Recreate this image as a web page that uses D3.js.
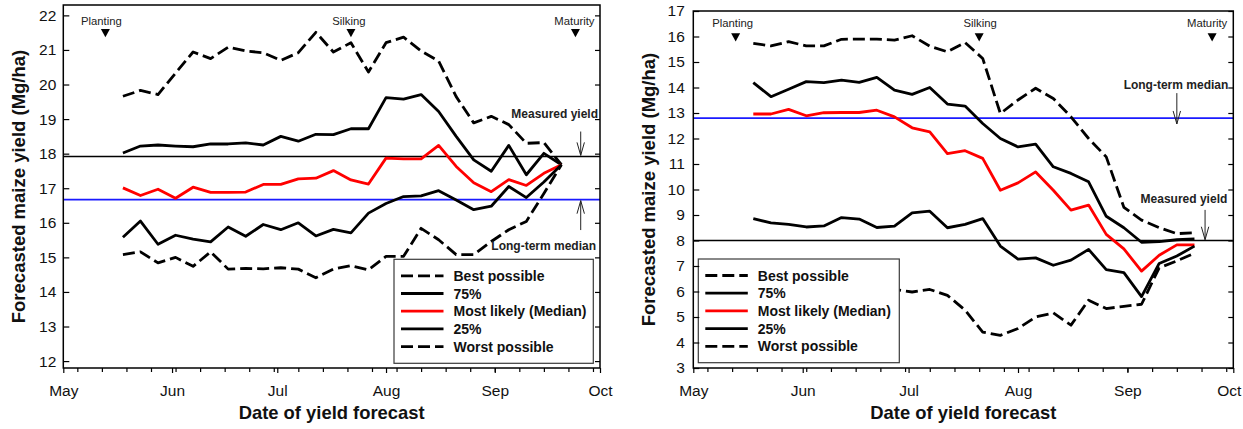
<!DOCTYPE html>
<html><head><meta charset="utf-8">
<script src="https://cdn.jsdelivr.net/npm/d3@7"></script>
<style>
html,body{margin:0;padding:0;background:#fff;}
svg{display:block;font-family:"Liberation Sans",Arial,Helvetica,sans-serif;}
</style></head><body>
<svg id="chart" width="1243" height="429"></svg>
<script>
// Forecast dates shared by both seasons
const forecastDates = ["2013-05-18","2013-05-23","2013-05-28","2013-06-02","2013-06-07","2013-06-12",
  "2013-06-17","2013-06-22","2013-06-27","2013-07-02","2013-07-07","2013-07-12","2013-07-17",
  "2013-07-22","2013-07-27","2013-08-01","2013-08-06","2013-08-11","2013-08-16","2013-08-21",
  "2013-08-26","2013-08-31","2013-09-05","2013-09-10","2013-09-15","2013-09-20"];
const monthTicks = ["2013-05-01","2013-06-01","2013-07-01","2013-08-01","2013-09-01","2013-10-01"];
const seriesNames = ["Best possible","75%","Most likely (Median)","25%","Worst possible"];
const stageNames = ["Planting","Silking","Maturity"];

// Season A (Mg/ha)
const bestA   = [19.66,19.83,19.71,20.33,20.94,20.75,21.08,20.97,20.92,20.70,20.92,21.51,20.94,21.21,20.36,21.21,21.37,20.97,20.68,19.65,18.89,19.08,18.84,18.30,18.32,17.68];
const p75A    = [18.02,18.22,18.25,18.22,18.20,18.28,18.28,18.31,18.25,18.50,18.36,18.56,18.55,18.72,18.72,19.62,19.58,19.71,19.22,18.50,17.82,17.49,18.24,17.39,18.01,17.68];
const medianA = [17.01,16.79,16.97,16.71,17.03,16.88,16.88,16.89,17.11,17.11,17.27,17.29,17.51,17.24,17.12,17.87,17.85,17.85,18.24,17.63,17.16,16.90,17.25,17.08,17.43,17.68];
const p25A    = [15.58,16.05,15.38,15.64,15.53,15.45,15.88,15.61,15.95,15.80,16.00,15.62,15.81,15.71,16.28,16.56,16.76,16.78,16.93,16.66,16.38,16.48,17.05,16.73,17.18,17.68];
const worstA  = [15.08,15.16,14.84,15.00,14.74,15.16,14.66,14.68,14.67,14.70,14.66,14.41,14.66,14.76,14.64,15.03,15.03,15.84,15.51,15.08,15.08,15.46,15.80,16.04,16.85,17.68];
const measuredA = 17.92;
const longTermA = 16.67;
const stageDatesA = ["2013-05-13","2013-07-22","2013-09-24"];
const yTicksA = [12,13,14,15,16,17,18,19,20,21,22];

// Season B (Mg/ha)
const bestB   = [15.73,15.63,15.80,15.63,15.63,15.89,15.90,15.90,15.86,16.03,15.62,15.40,15.76,15.14,12.98,13.51,13.97,13.57,12.85,12.00,11.28,9.30,8.80,8.50,8.27,8.30];
const p75B    = [14.19,13.64,13.93,14.23,14.19,14.29,14.20,14.40,13.90,13.73,14.00,13.35,13.27,12.59,12.00,11.67,11.78,10.89,10.63,10.30,8.95,8.50,7.93,7.96,8.03,8.06];
const medianB = [12.96,12.96,13.14,12.89,13.01,13.02,13.02,13.11,12.85,12.42,12.26,11.41,11.52,11.22,9.97,10.26,10.69,9.97,9.19,9.39,8.24,7.67,6.80,7.42,7.83,7.83];
const p25B    = [8.86,8.69,8.63,8.53,8.57,8.90,8.84,8.51,8.56,9.08,9.15,8.50,8.63,8.86,7.78,7.27,7.32,7.03,7.23,7.65,6.86,6.74,5.80,7.10,7.39,7.78];
const worstB  = [6.25,6.20,6.15,6.10,6.12,6.08,6.10,6.05,6.08,5.98,6.08,5.85,5.27,4.41,4.28,4.55,5.00,5.16,4.68,5.66,5.33,5.42,5.50,6.93,7.20,7.50];
const measuredB = 8.0;
const longTermB = 12.8;
const stageDatesB = ["2013-05-13","2013-07-21","2013-09-25"];
const yTicksB = [3,4,5,6,7,8,9,10,11,12,13,14,15,16,17];

const parse = d3.isoParse;
const seriesStyle = [
  {color:"#000", dash:"12,5"},
  {color:"#000", dash:null},
  {color:"#ff0000", dash:null},
  {color:"#000", dash:null},
  {color:"#000", dash:"12,5"}
];

const panels = [
  {
    box:{left:63.3, right:600, top:5, bottom:368}, yDomain:[11.8,22.3], yTicks:yTicksA,
    series:[bestA,p75A,medianA,p25A,worstA], measured:measuredA, longTerm:longTermA,
    stages:stageDatesA, stageDx:[-4,-2,-1], stageTextDy:19.5, triTop:24,
    labelPad:7, titleX:25,
    legend:{x:394, y:259.3, w:199.3, h:104},
    notes:[
      {text:"Measured yield", textY:19.02, endDx:2, arrowX:"2013-09-25T12:00", tail:18.64, tip:17.95},
      {text:"Long-term median", textY:15.21, endDx:4, arrowX:"2013-09-25T12:00", tail:15.79, tip:16.64}
    ]
  },
  {
    box:{left:693.3, right:1233.3, top:11, bottom:368}, yDomain:[3,17], yTicks:yTicksB,
    series:[bestB,p75B,medianB,p25B,worstB], measured:measuredB, longTerm:longTermB,
    stages:stageDatesB, stageDx:[-3,1,-5], stageTextDy:16, triTop:22.3,
    labelPad:8.5, titleX:655,
    legend:{x:698.3, y:259, w:201, h:103.7},
    notes:[
      {text:"Long-term median", textY:13.96, endDx:5, arrowX:"2013-09-15", tail:13.78, tip:12.57},
      {text:"Measured yield", textY:9.47, endDx:6, arrowX:"2013-09-23", tail:9.2, tip:8.03}
    ]
  }
];

const svg = d3.select("#chart");
const svgWidth = +svg.attr("width");

panels.forEach(p => {
  const b = p.box;
  const x = d3.scaleTime().domain([parse("2013-05-01"), parse("2013-10-01")]).range([b.left, b.right]);
  const y = d3.scaleLinear().domain(p.yDomain).range([b.bottom, b.top]);
  const g = svg.append("g");

  // reference lines
  g.append("line").attr("x1", b.left).attr("x2", b.right)
    .attr("y1", y(p.measured)).attr("y2", y(p.measured))
    .attr("stroke", "#000").attr("stroke-width", 1.5);
  g.append("line").attr("x1", b.left).attr("x2", b.right)
    .attr("y1", y(p.longTerm)).attr("y2", y(p.longTerm))
    .attr("stroke", "#1a1aff").attr("stroke-width", 1.6);

  // forecast series
  const line = d3.line().x(d => x(d.date)).y(d => y(d.v));
  p.series.forEach((vals, i) => {
    const pts = vals.map((v, k) => ({date: parse(forecastDates[k]), v}));
    g.append("path").datum(pts).attr("d", line)
      .attr("fill", "none").attr("stroke", seriesStyle[i].color)
      .attr("stroke-width", 2.8).attr("stroke-linejoin", "round")
      .attr("stroke-dasharray", seriesStyle[i].dash);
  });

  // growth stage markers
  p.stages.forEach((s, i) => {
    const sx = x(parse(s));
    g.append("path")
      .attr("d", `M${sx - 4.5},${b.top + p.triTop}L${sx + 4.5},${b.top + p.triTop}L${sx},${b.top + p.triTop + 8.3}Z`)
      .attr("fill", "#000");
    g.append("text").attr("x", sx + p.stageDx[i]).attr("y", b.top + p.stageTextDy)
      .attr("text-anchor", "middle").attr("font-size", 11.3).attr("fill", "#222")
      .text(stageNames[i]);
  });

  // annotations with arrows
  p.notes.forEach(n => {
    g.append("text").attr("x", b.right - n.endDx).attr("y", y(n.textY))
      .attr("text-anchor", "end").attr("font-size", 12).attr("font-weight", "bold")
      .attr("fill", "#222").text(n.text);
    const ax = x(parse(n.arrowX));
    const y0 = y(n.tail), y1 = y(n.tip);
    const dir = y1 > y0 ? 1 : -1;
    g.append("line").attr("x1", ax).attr("x2", ax).attr("y1", y0).attr("y2", y1)
      .attr("stroke", "#222").attr("stroke-width", 1);
    g.append("path")
      .attr("d", `M${ax - 3.7},${y1 - dir * 13}L${ax},${y1}L${ax + 3.7},${y1 - dir * 13}`)
      .attr("fill", "none").attr("stroke", "#222").attr("stroke-width", 1);
  });

  // legend
  const L = p.legend;
  const lg = g.append("g").attr("transform", `translate(${L.x},${L.y})`);
  lg.append("rect").attr("width", L.w).attr("height", L.h)
    .attr("fill", "#fff").attr("stroke", "#3a3a3a").attr("stroke-width", 1.2);
  seriesNames.forEach((name, i) => {
    const ry = 16.5 + i * 17.7;
    lg.append("line").attr("x1", 7).attr("x2", 49.5).attr("y1", ry).attr("y2", ry)
      .attr("stroke", seriesStyle[i].color).attr("stroke-width", 2.8)
      .attr("stroke-dasharray", seriesStyle[i].dash);
    lg.append("text").attr("x", 59.5).attr("y", ry).attr("dy", "0.36em")
      .attr("font-size", 14).attr("font-weight", "bold").attr("fill", "#111").text(name);
  });

  // axes
  const yLeft = d3.axisLeft(y).tickValues(p.yTicks).tickSize(-6).tickPadding(p.labelPad).tickFormat(d3.format("d"));
  const ga = g.append("g").attr("transform", `translate(${b.left},0)`).call(yLeft);
  ga.select(".domain").remove();
  ga.selectAll("text").attr("font-size", 15.5).attr("fill", "#111").attr("font-family", null);

  const yRight = d3.axisRight(y).tickValues(p.yTicks).tickSize(-5).tickFormat("");
  const gr = g.append("g").attr("transform", `translate(${b.right},0)`).call(yRight);
  gr.select(".domain").remove();

  const xMinor = d3.axisBottom(x).ticks(d3.timeWeek).tickSize(4).tickFormat("");
  const gm = g.append("g").attr("transform", `translate(0,${b.bottom})`).call(xMinor);
  gm.select(".domain").remove();

  const xMajor = d3.axisBottom(x).tickValues(monthTicks.map(parse)).tickSize(5).tickPadding(12)
    .tickFormat(d3.timeFormat("%b"));
  const gx = g.append("g").attr("transform", `translate(0,${b.bottom})`).call(xMajor);
  gx.select(".domain").remove();
  gx.selectAll("text").attr("font-size", 15.5).attr("fill", "#111").attr("font-family", null);
  // keep month labels at the right edge inside the drawing
  gx.selectAll(".tick").each(function() {
    const t = d3.select(this).select("text");
    const bb = this.getBBox();
    const m = this.transform.baseVal.consolidate();
    const tx = m ? m.matrix.e : 0;
    const over = tx + bb.x + bb.width - (svgWidth - 1);
    if (over > 0) t.attr("dx", -over);
  });
  g.selectAll(".tick line").attr("stroke", "#000").attr("stroke-width", 1.2);

  // frame
  g.append("rect").attr("x", b.left).attr("y", b.top)
    .attr("width", b.right - b.left).attr("height", b.bottom - b.top)
    .attr("fill", "none").attr("stroke", "#000").attr("stroke-width", 1.5);

  // axis titles
  g.append("text").attr("x", (b.left + b.right) / 2).attr("y", 419)
    .attr("text-anchor", "middle").attr("font-size", 18.4).attr("font-weight", "bold")
    .attr("fill", "#111").text("Date of yield forecast");
  g.append("text").attr("transform", `translate(${p.titleX},${(b.top + b.bottom) / 2}) rotate(-90)`)
    .attr("text-anchor", "middle").attr("font-size", 18.5).attr("font-weight", "bold")
    .attr("fill", "#111").text("Forecasted maize yield (Mg/ha)");
});
</script>
</body></html>
